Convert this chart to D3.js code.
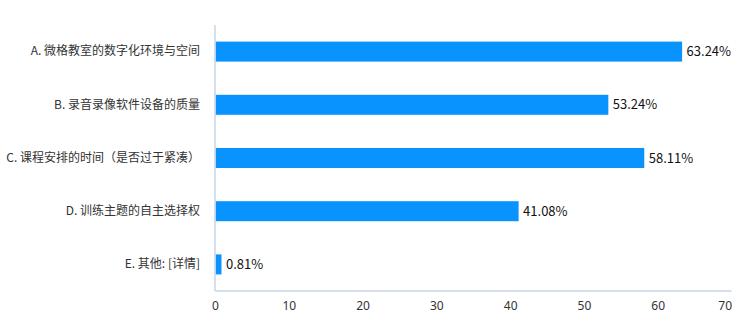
<!DOCTYPE html>
<html>
<head>
<meta charset="utf-8">
<script src="https://cdn.jsdelivr.net/npm/d3@7"></script>
<style>
  html, body { margin: 0; padding: 0; background: #fff; }
  svg { display: block; font-family: "Noto Sans CJK SC", "Noto Sans", sans-serif; }
</style>
</head>
<body>
<svg id="chart" width="741" height="331"></svg>
<script>
// Survey options and the share of respondents choosing each (%)
const categories = [
  "A. 微格教室的数字化环境与空间",
  "B. 录音录像软件设备的质量",
  "C. 课程安排的时间（是否过于紧凑）",
  "D. 训练主题的自主选择权",
  "E. 其他: [详情]"
];
const values = [63.24, 53.24, 58.11, 41.08, 0.81];
const xTicks = [0, 10, 20, 30, 40, 50, 60, 70];

const svg = d3.select("#chart");
const margin = { left: 215, right: 9.5, top: 25, bottom: 40 };
const W = 741, H = 331;

const x = d3.scaleLinear().domain([0, 70]).range([margin.left, W - margin.right]);
const y = d3.scaleBand().domain(categories).range([margin.top, H - margin.bottom]).paddingInner(0.624).paddingOuter(0.312);

const axisColor = "#c9d5ea";

// bars
svg.append("g").selectAll("rect").data(values).join("rect")
  .attr("x", x(0) + 0.5)
  .attr("y", (d, i) => y(categories[i]))
  .attr("width", d => x(d) - x(0))
  .attr("height", y.bandwidth())
  .attr("fill", "#0893ff");

// value labels
svg.append("g").selectAll("text").data(values).join("text")
  .attr("x", d => x(d) + 5)
  .attr("y", (d, i) => y(categories[i]) + y.bandwidth() / 2)
  .attr("dy", "0.35em")
  .attr("font-size", 13)
  .attr("fill", "#111")
  .text(d => d.toFixed(2) + "%");

// category axis
const yAxis = svg.append("g")
  .attr("transform", `translate(${x(0)},0)`)
  .call(d3.axisLeft(y).tickSize(0).tickPadding(15));
yAxis.select(".domain").attr("stroke", axisColor).attr("stroke-width", 1.5)
  .attr("d", `M0,${margin.top}V${H - margin.bottom}`);
yAxis.selectAll("text").attr("font-size", 12).attr("fill", "#333")
  .attr("font-family", "\"Noto Sans CJK SC\", sans-serif");

// value axis
const xAxis = svg.append("g")
  .attr("transform", `translate(0,${H - margin.bottom})`)
  .call(d3.axisBottom(x).tickValues(xTicks).tickSize(0).tickPadding(10));
xAxis.select(".domain").attr("stroke", axisColor).attr("stroke-width", 1.5)
  .attr("d", `M${x(0)},0H${x(70)}`);
xAxis.selectAll("text").attr("font-size", 12).attr("fill", "#333")
  .attr("font-family", "\"Noto Sans\", sans-serif")
  .attr("text-anchor", d => d === 70 ? "end" : "middle");
</script>
</body>
</html>
